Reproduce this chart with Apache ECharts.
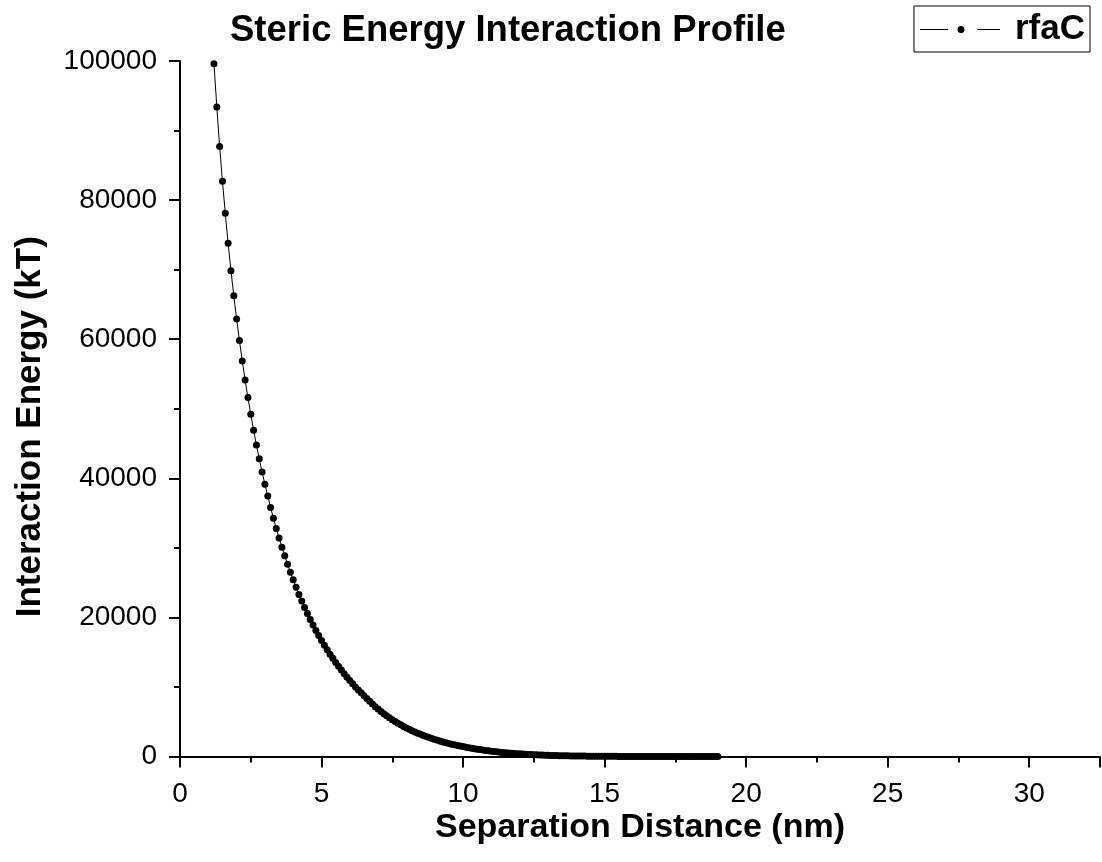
<!DOCTYPE html>
<html>
<head>
<meta charset="utf-8">
<script src="https://cdn.jsdelivr.net/npm/echarts@6/dist/echarts.min.js"></script>
<style>
html,body{margin:0;padding:0;background:#fff;}
#chart{width:1102px;height:862px;}
</style>
</head>
<body>
<div id="chart"></div>
<script>
const chartTitle = "Steric Energy Interaction Profile";
const xAxisTitle = "Separation Distance (nm)";
const yAxisTitle = "Interaction Energy (kT)";
const seriesName = "rfaC";

const distance = [
1.2,1.3,1.4,1.5,1.6,1.7,1.8,1.9,2.0,
2.1,2.2,2.3,2.4,2.5,2.6,2.7,2.8,2.9,3.0,
3.1,3.2,3.3,3.4,3.5,3.6,3.7,3.8,3.9,4.0,
4.1,4.2,4.3,4.4,4.5,4.6,4.7,4.8,4.9,5.0,
5.1,5.2,5.3,5.4,5.5,5.6,5.7,5.8,5.9,6.0,
6.1,6.2,6.3,6.4,6.5,6.6,6.7,6.8,6.9,7.0,
7.1,7.2,7.3,7.4,7.5,7.6,7.7,7.8,7.9,8.0,
8.1,8.2,8.3,8.4,8.5,8.6,8.7,8.8,8.9,9.0,
9.1,9.2,9.3,9.4,9.5,9.6,9.7,9.8,9.9,10.0,
10.1,10.2,10.3,10.4,10.5,10.6,10.7,10.8,10.9,11.0,
11.1,11.2,11.3,11.4,11.5,11.6,11.7,11.8,11.9,12.0,
12.1,12.2,12.3,12.4,12.5,12.6,12.7,12.8,12.9,13.0,
13.1,13.2,13.3,13.4,13.5,13.6,13.7,13.8,13.9,14.0,
14.1,14.2,14.3,14.4,14.5,14.6,14.7,14.8,14.9,15.0,
15.1,15.2,15.3,15.4,15.5,15.6,15.7,15.8,15.9,16.0,
16.1,16.2,16.3,16.4,16.5,16.6,16.7,16.8,16.9,17.0,
17.1,17.2,17.3,17.4,17.5,17.6,17.7,17.8,17.9,18.0,
18.1,18.2,18.3,18.4,18.5,18.6,18.7,18.8,18.9,19.0
];

const energy = [
99600,93400,87700,82700,78100,73800,69850,66250,62900,
59800,56850,54150,51600,49200,46900,44800,42800,40900,39150,
37450,35800,34250,32800,31400,30100,28850,27650,26500,25400,
24350,23300,22350,21430,20550,19710,18900,18130,17390,16680,
16000,15340,14710,14110,13530,12970,12430,11910,11410,10930,
10460,10010,9570,9150,8740,8340,7930,7540,7170,6820,
6480,6160,5860,5570,5290,5030,4780,4550,4330,4115,
3910,3715,3530,3355,3185,3025,2870,2725,2585,2450,
2320,2200,2085,1975,1870,1770,1675,1585,1500,1420,
1340,1262,1188,1118,1052,989,929,872,818,767,
718,672,628,587,547,510,475,442,411,382,
354,328,304,281,260,240,221,204,188,173,
159,146,134,123,113,103,94,86,79,72,
66,60,54,49,45,41,37,34,31,28,
25,23,21,19,17,16,14,13,12,11,
10,9,8,7,6.5,6,5.4,4.9,4.5,4,
3.7,3.3,3,2.7,2.5,2.2,2,1.8,1.6,1.5,
1.3,1.2,1.1,1,0.9,0.8,0.7,0.6,0.5,0.4
];

const xMin = 0, xMax = 32.5, xStep = 5;
const yMin = 0, yMax = 100000, yStep = 20000;

const points = distance.map((d, i) => [d, energy[i]]);

const FONT = "'Liberation Sans', Arial, sans-serif";
const chart = echarts.init(document.getElementById('chart'), null, {renderer: 'canvas'});

const axisCommon = {
  axisLine: {show: true, onZero: false, lineStyle: {color: '#000', width: 2}},
  axisTick: {show: true, inside: false, length: 11, lineStyle: {color: '#000', width: 2}},
  minorTick: {show: true, splitNumber: 2, length: 6, lineStyle: {color: '#000', width: 2}},
  splitLine: {show: false},
  minorSplitLine: {show: false},
  nameMoveOverlap: false
};

const legendIcon = 'path://M0 4.5H28V5.5H0Z M37.5 5A3.5 3.5 0 1 0 44.5 5A3.5 3.5 0 1 0 37.5 5Z M57 4.5H80V5.5H57Z';

chart.setOption({
  animation: false,
  backgroundColor: '#fff',
  title: {
    text: chartTitle,
    left: 225,
    top: 7,
    textStyle: {fontFamily: FONT, fontWeight: 'bold', fontSize: 36.5, color: '#000'}
  },
  legend: {
    right: 12,
    top: 6,
    orient: 'vertical',
    borderColor: '#000',
    borderWidth: 1,
    borderRadius: 0,
    padding: [6, 5, 5, 6],
    icon: legendIcon,
    itemWidth: 80,
    itemHeight: 10,
    itemGap: 0,
    itemStyle: {color: '#000'},
    textStyle: {fontFamily: FONT, fontWeight: 'bold', fontSize: 35, color: '#000', padding: [0, 0, 0, 10]},
    data: [seriesName]
  },
  grid: {left: 180, right: 2, top: 61, bottom: 105.5, containLabel: false, outerBoundsMode: 'none'},
  xAxis: Object.assign({}, axisCommon, {
    type: 'value',
    min: xMin, max: xMax, interval: xStep,
    name: xAxisTitle,
    nameLocation: 'middle',
    nameGap: 54,
    nameTextStyle: {fontFamily: FONT, fontWeight: 'bold', fontSize: 34, color: '#000'},
    axisLabel: {fontFamily: FONT, fontSize: 28, color: '#000', margin: 24, showMaxLabel: false,
      formatter: v => String(v)}
  }),
  yAxis: Object.assign({}, axisCommon, {
    type: 'value',
    min: yMin, max: yMax, interval: yStep,
    name: yAxisTitle,
    nameLocation: 'middle',
    nameGap: 132,
    nameTextStyle: {fontFamily: FONT, fontWeight: 'bold', fontSize: 35, color: '#000', padding: [0, 36, 0, 0]},
    axisLabel: {fontFamily: FONT, fontSize: 28, color: '#000', margin: 23,
      formatter: v => String(v)}
  }),
  series: [{
    name: seriesName,
    type: 'line',
    data: points,
    showAllSymbol: true,
    symbol: 'circle',
    symbolSize: 7,
    itemStyle: {color: '#000'},
    lineStyle: {color: '#000', width: 1},
    clip: false
  }]
});
</script>
</body>
</html>
